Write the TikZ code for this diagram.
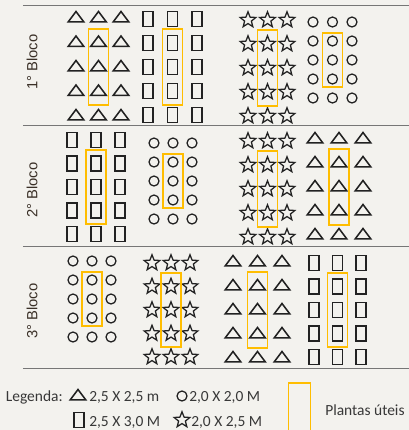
\documentclass[tikz,border=0pt]{standalone}
\usepackage{fontspec}
\setmainfont{Carlito}
\newfontfamily\blocofont{Liberation Sans}
\usetikzlibrary{shapes,positioning,fit}

\definecolor{papel}{RGB}{243,242,238}
\definecolor{tinta}{RGB}{34,34,34}
\definecolor{linha}{RGB}{118,118,118}
\definecolor{util}{RGB}{255,189,0}

\newcommand{\parcela}[7]{%
  \foreach \col in {1,2,3}
    \foreach \row in {1,...,5}
      \node[#2] (#1-\row-\col) at ({#3+(\col-1)*#4}, {#5+(\row-1)*#6}) {};
  \node[utilbox, fit=(#1-2-2.center)(#1-4-2.center), inner ysep=#7] (#1-util) {};
}

\begin{document}
\begin{tikzpicture}[x=0.025cm, y=-0.025cm,
    tri/.style={isosceles triangle, isosceles triangle stretches, shape border rotate=90,
        minimum width=0.39cm, minimum height=0.26cm, draw=tinta, line width=1.1pt, inner sep=0pt},
    sq/.style={rectangle, draw=tinta, line width=1.1pt, minimum width=0.25cm, minimum height=0.37cm, inner sep=0pt},
    circ/.style={circle, draw=tinta, line width=0.9pt, minimum size=0.25cm, inner sep=0pt},
    estrela/.style={star, star points=5, star point ratio=2.3, minimum size=0.41cm, draw=tinta, line width=0.9pt, inner sep=0pt},
    utilbox/.style={draw=util, line width=1.4pt, inner xsep=0.25cm},
    bloco/.style={rotate=90, font=\blocofont\fontsize{10.5}{12}\selectfont, text=tinta!85!brown},
    leg/.style={font=\fontsize{11}{13}\selectfont, text=tinta!90, inner sep=0pt}]

    \fill[papel] (0,0) rectangle (409,430);
    \useasboundingbox (0,0) rectangle (409,430);

    \draw[linha] (23,5) -- (409,5);
    \draw[linha] (23,125) -- (409,125);
    \draw[linha] (23,246) -- (409,246);
    \draw[linha] (23,368) -- (409,368);

    \node[bloco] (bloco1) at (32,62) {1° Bloco};
    \node[bloco] (bloco2) at (32,190) {2° Bloco};
    \node[bloco] (bloco3) at (32,311) {3° Bloco};

    \parcela{b1tri}{tri}{76}{22.5}{18}{24.5}{0.34cm}
    \parcela{b1sq}{sq}{148}{24.5}{19}{24}{0.34cm}
    \parcela{b1star}{estrela}{248}{19.5}{20}{24}{0.34cm}
    \parcela{b1circ}{circ}{313}{19.5}{22}{19}{0.21cm}

    \parcela{b2sq}{sq}{72}{24}{140}{23.5}{0.34cm}
    \parcela{b2circ}{circ}{154}{19}{143}{19}{0.21cm}
    \parcela{b2star}{estrela}{248}{19.5}{141}{24}{0.34cm}
    \parcela{b2tri}{tri}{315}{24}{139}{24}{0.34cm}

    \parcela{b3circ}{circ}{73}{19}{261}{19}{0.21cm}
    \parcela{b3star}{estrela}{152}{19}{263}{23.5}{0.34cm}
    \parcela{b3tri}{tri}{233}{24.5}{262}{24}{0.34cm}
    \parcela{b3sq}{sq}{314}{23.5}{263}{23.5}{0.34cm}

    \node[leg, anchor=base east] (legenda) at (63,401) {Legenda:};
    \node[tri] (legtri) at (78,396) {};
    \node[leg, anchor=base west] (legtritxt) at (89,401) {2,5 X 2,5 m};
    \node[circ] (legcirc) at (182,396) {};
    \node[leg, anchor=base west] (legcirctxt) at (189,401) {2,0 X 2,0 M};
    \node[sq] (legsq) at (79,420) {};
    \node[leg, anchor=base west] (legsqtxt) at (89,426) {2,5 X 3,0 M};
    \node[estrela] (legstar) at (182,420) {};
    \node[leg, anchor=base west] (legstartxt) at (191,426) {2,0 X 2,5 M};
    \node[utilbox, minimum width=0.55cm, minimum height=1.45cm, inner sep=0pt] (legutil) at (299.5,412) {};
    \node[leg, anchor=base west] (legutiltxt) at (325,415) {Plantas úteis};
\end{tikzpicture}
\end{document}
